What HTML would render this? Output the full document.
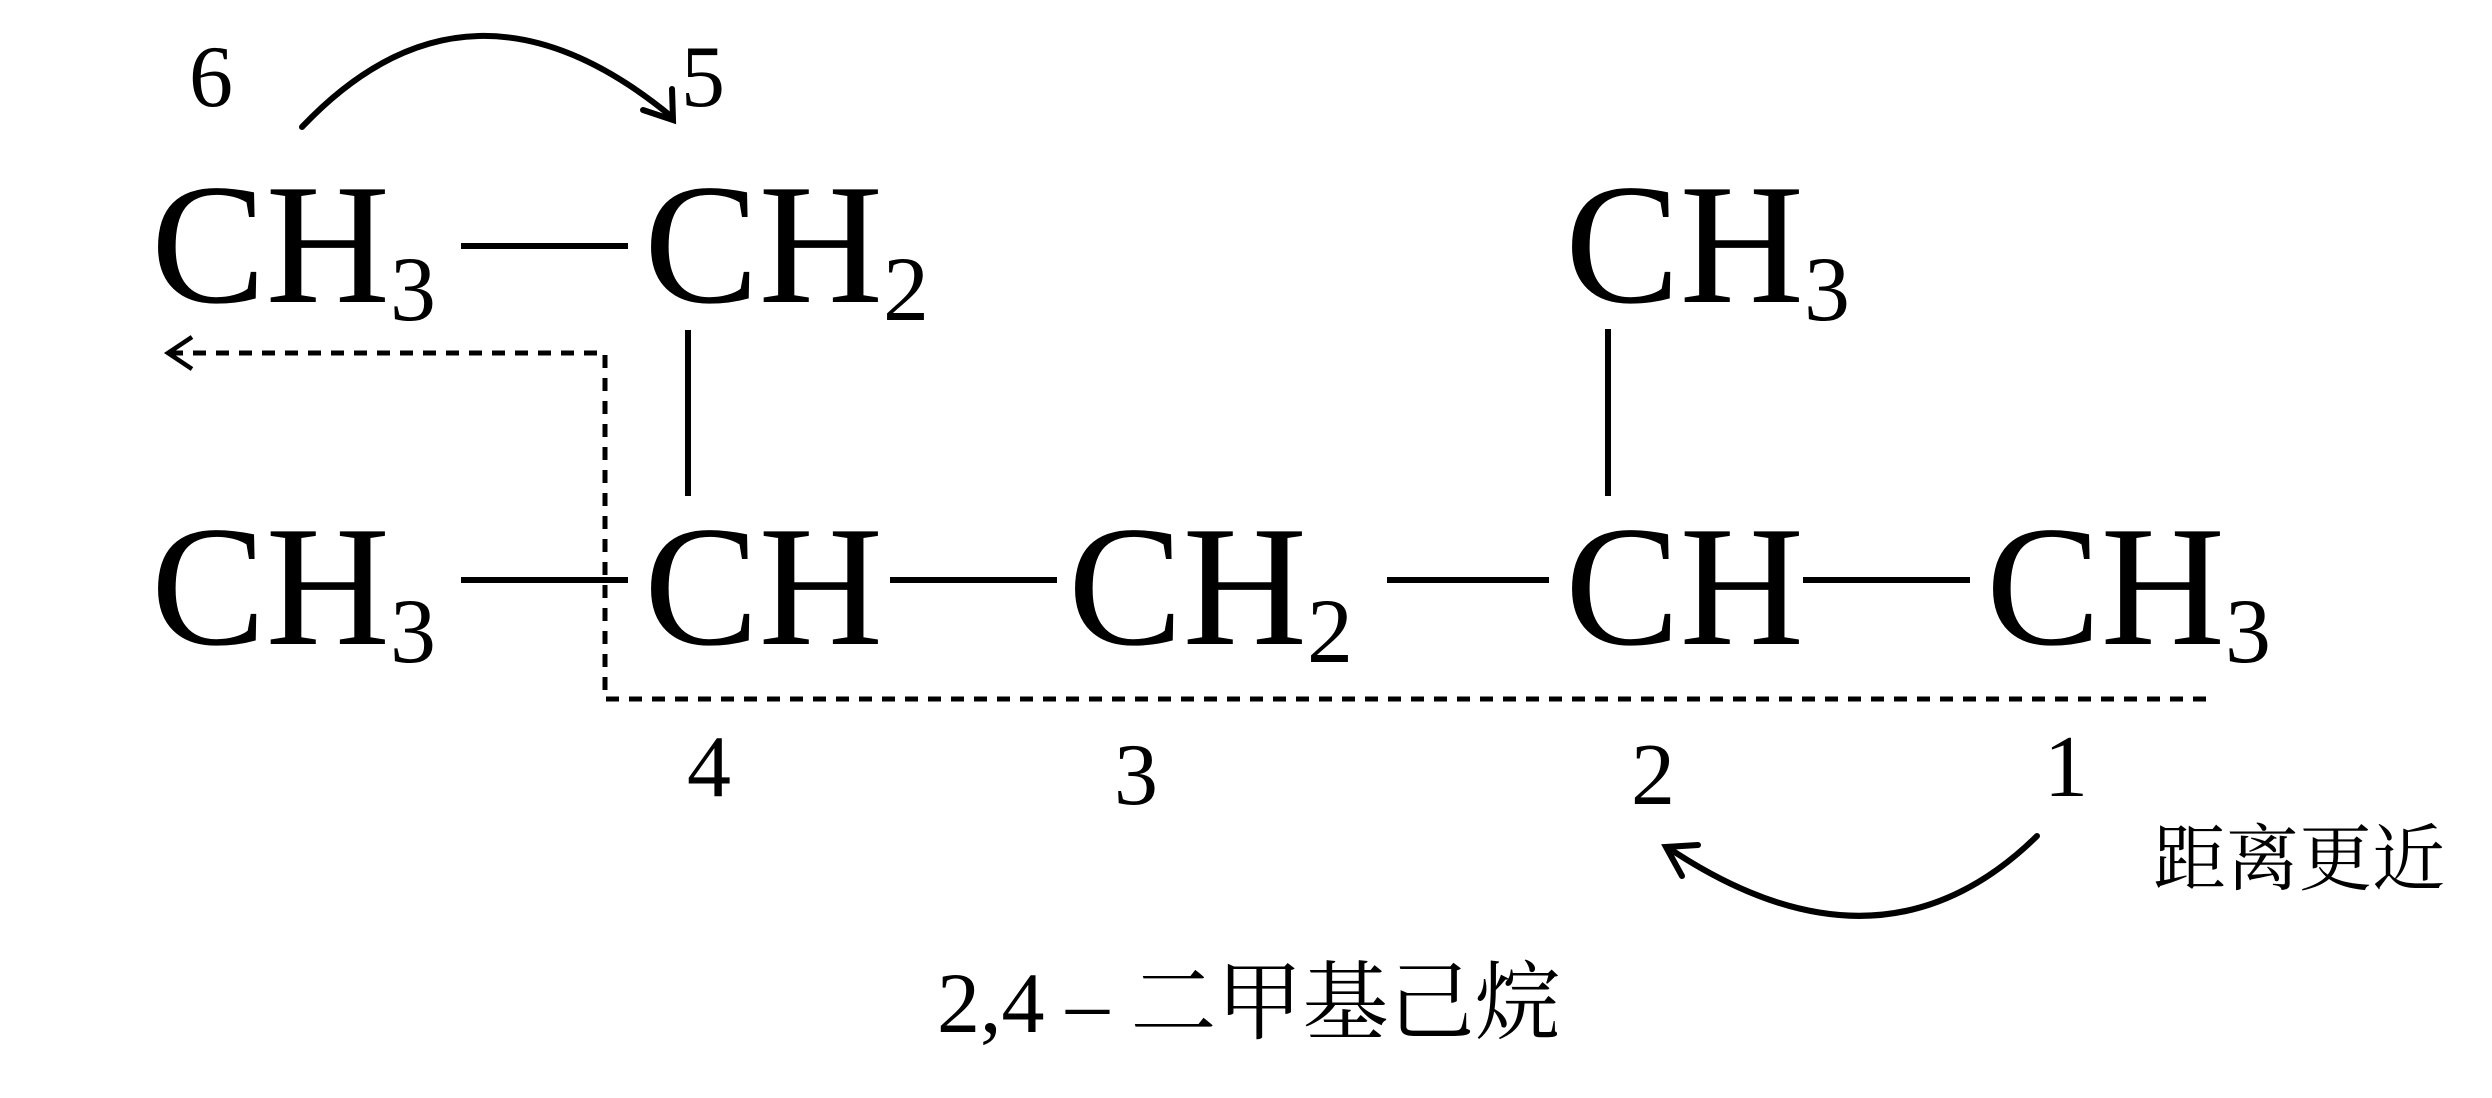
<!DOCTYPE html>
<html><head><meta charset="utf-8"><style>
html,body{margin:0;padding:0;background:#fff;width:2492px;height:1098px;overflow:hidden}
svg{display:block}
.m{font-family:"Liberation Serif",serif;font-size:172px;fill:#000}
.s{font-size:92px}
.n{font-family:"Liberation Serif",serif;font-size:88px;fill:#000}
.c{font-family:"Liberation Serif","Noto Serif CJK SC",serif;fill:#000}
</style></head><body>
<svg width="2492" height="1098" viewBox="0 0 2492 1098" xmlns="http://www.w3.org/2000/svg">
<text class="m" x="151" y="302">CH<tspan class="s" dy="18">3</tspan></text>
<text class="m" x="644" y="302">CH<tspan class="s" dy="18">2</tspan></text>
<text class="m" x="1565" y="302">CH<tspan class="s" dy="18">3</tspan></text>
<text class="m" x="151" y="644">CH<tspan class="s" dy="18">3</tspan></text>
<text class="m" x="644" y="644">CH</text>
<text class="m" x="1068" y="644">CH<tspan class="s" dy="18">2</tspan></text>
<text class="m" x="1565" y="644">CH</text>
<text class="m" x="1986" y="644">CH<tspan class="s" dy="18">3</tspan></text>
<g stroke="#000" stroke-width="6" fill="none">
<line x1="461" y1="246" x2="628" y2="246"/>
<line x1="688" y1="330" x2="688" y2="496"/>
<line x1="1608" y1="329" x2="1608" y2="496"/>
<line x1="461" y1="580" x2="628" y2="580"/>
<line x1="890" y1="580" x2="1057" y2="580"/>
<line x1="1387" y1="580" x2="1549" y2="580"/>
<line x1="1803" y1="580" x2="1970" y2="580"/>
</g>
<g stroke="#000" stroke-width="5" fill="none">
<polyline points="170,353 605,353 605,699 2213,699" stroke-dasharray="13,10"/>
<polyline points="192,337 168,353 192,369" stroke-width="4.5"/>
</g>
<g stroke="#000" stroke-width="6" fill="none" stroke-linecap="round">
<path d="M302,127 Q470,-50 672,117"/>
<polyline points="643,110 673,120 672,89"/>
<path d="M2037,836 Q1880,990 1667,847"/>
<polyline points="1682,876 1666,847 1698,845"/>
</g>
<text class="n" x="211" y="106" text-anchor="middle">6</text>
<text class="n" x="703" y="106" text-anchor="middle">5</text>
<text class="n" x="709" y="796" text-anchor="middle">4</text>
<text class="n" x="1136" y="804" text-anchor="middle">3</text>
<text class="n" x="1653" y="804" text-anchor="middle">2</text>
<text class="n" x="2066" y="796" text-anchor="middle">1</text>
<text class="c" x="2153" y="884" font-size="73">距离更近</text>
<text class="c" x="937" y="1032" font-size="86">2,4 – 二甲基己烷</text>
</svg>
</body></html>
